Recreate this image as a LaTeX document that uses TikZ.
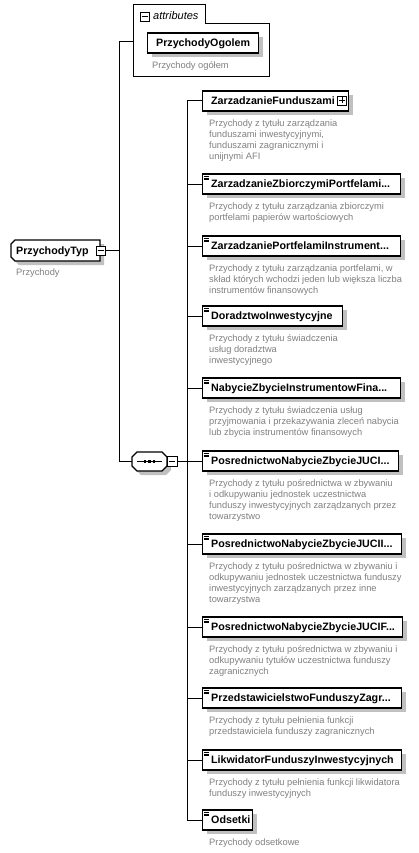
\documentclass[tikz,border=0pt]{standalone}
\usepackage{fontspec}
\setmainfont{Liberation Sans}
\usetikzlibrary{shadows,calc}
\definecolor{descgray}{RGB}{128,128,128}
\definecolor{shadowgray}{RGB}{192,192,192}

\newcommand\xelem[6]{%
  \coordinate (#1b) at (187,#2);
  \node[elbox, minimum width=#3pt] (#1) at (202,#2) {};
  \node[titletext, anchor=base west] (#1t) at (211,#2+3.8) {#4};
  \ifnum#5=1
    \draw[iconline] (203.6,#2-7.8) -- (209,#2-7.8) (203.6,#2-6.1) -- (209,#2-6.1) (203.6,#2-4.4) -- (209,#2-4.4);
  \fi
  \node[desctext] (#1d) at (209,#2+17.3) {\strut #6};
  \draw[conn] (#1b) -- (#1.west);
}

\begin{document}
\begin{tikzpicture}[x=1pt,y=-1pt,
  conn/.style={line width=1pt, black},
  elbox/.style={draw=black, line width=1.2pt, fill=white, inner sep=0pt, minimum height=20pt, anchor=west,
    general shadow={fill=shadowgray, shadow xshift=4pt, shadow yshift=-4pt}},
  titletext/.style={font=\fontsize{10.7}{12}\selectfont\bfseries, inner sep=0pt},
  desctext/.style={font=\fontsize{9.3}{11}\selectfont, text=descgray, align=left, inner sep=0pt, anchor=north west},
  iconline/.style={line width=0.7pt, black},
  pmbox/.style={draw=black, fill=white, line width=0.8pt, minimum size=9pt, inner sep=0pt},
]
\useasboundingbox (0,0) rectangle (418,853);
\fill[white] (0,0) rectangle (418,853);

% ---------- attributes group ----------
\draw[line width=1pt] (133,5) -- (205,5) -- (205,24) -- (269,24) -- (269,77) -- (133,77) -- cycle;
\node[pmbox, minimum size=9pt] (attrpm) at (144.5,16.5) {};
\draw[line width=0.8pt] ($(attrpm.center)+(-3,0)$) -- ($(attrpm.center)+(3,0)$);
\node[font=\fontsize{11}{12}\selectfont\itshape, inner sep=0pt, anchor=base west] (attrlabel) at (153,20) {attributes};
\node[elbox, minimum width=111pt, text height=7.7pt, text depth=0pt, font=\fontsize{10.7}{12}\selectfont\bfseries] (ogolem) at (147,43) {PrzychodyOgolem};
\node[desctext] (ogolemd) at (152,60.3) {\strut Przychody ogółem};
\coordinate (attrw) at (133,42);

% ---------- root ----------
\begin{scope}[shift={(4,4)}]
  \fill[shadowgray] (15,240) -- (100,240) -- (100,261) -- (15,261) -- (11,257) -- (11,244) -- cycle;
\end{scope}
\draw[line width=1.2pt, fill=white] (15,240) -- (100,240) -- (100,261) -- (15,261) -- (11,257) -- (11,244) -- cycle;
\node[titletext, anchor=base west] (root) at (16,254.3) {PrzychodyTyp};
\node[pmbox] (rootpm) at (100.5,250.5) {};
\draw[line width=0.8pt] ($(rootpm.center)+(-3,0)$) -- ($(rootpm.center)+(3,0)$);
\node[desctext] (rootd) at (16,267.3) {\strut Przychody};

% ---------- first vertical bar ----------
\coordinate (v1top) at (119,42);
\coordinate (v1root) at (119,250.5);
\coordinate (v1bot) at (119,461);
\draw[conn] (v1top) -- (v1bot);
\draw[conn] (v1top) -- (attrw);
\draw[conn] (rootpm.east) -- (v1root);

% ---------- sequence ----------
\begin{scope}[shift={(4,4)}]
  \fill[shadowgray] (137,452) -- (162,452) -- (167,457) -- (167,466) -- (162,471) -- (137,471) -- (132,466) -- (132,457) -- cycle;
\end{scope}
\draw[line width=1.2pt, fill=white] (137,452) -- (162,452) -- (167,457) -- (167,466) -- (162,471) -- (137,471) -- (132,466) -- (132,457) -- cycle;
\coordinate (seqw) at (132,461);
\draw[line width=1pt] (137,461.5) -- (162,461.5);
\foreach \dx in {145,149.5,154} { \fill (\dx-1.4,460.1) rectangle (\dx+1.4,462.9); }
\node[pmbox, minimum size=10pt] (seqpm) at (172,461) {};
\draw[line width=0.8pt] ($(seqpm.center)+(-3,0)$) -- ($(seqpm.center)+(3,0)$);
\draw[conn] (v1bot) -- (seqw);
\coordinate (v2mid) at (187,461);
\draw[conn] (seqpm.east) -- (v2mid);

% ---------- children ----------
\xelem{e1}{101}{146}{ZarzadzanieFunduszami}{0}{Przychody z tytułu zarządzania\\funduszami inwestycyjnymi,\\funduszami zagranicznymi i\\unijnymi AFI}
\node[pmbox, minimum size=9pt] (e1pm) at (342,100.5) {};
\draw[line width=0.8pt] ($(e1pm.center)+(-3,0)$) -- ($(e1pm.center)+(3,0)$) ($(e1pm.center)+(0,-3)$) -- ($(e1pm.center)+(0,3)$);
\xelem{e2}{184}{198}{ZarzadzanieZbiorczymiPortfelami...}{1}{Przychody z tytułu zarządzania zbiorczymi\\portfelami papierów wartościowych}
\xelem{e3}{246}{198}{ZarzadzaniePortfelamiInstrument...}{1}{Przychody z tytułu zarządzania portfelami, w\\skład których wchodzi jeden lub większa liczba\\instrumentów finansowych}
\xelem{e4}{316}{140}{DoradztwoInwestycyjne}{1}{Przychody z tytułu świadczenia\\usług doradztwa\\inwestycyjnego}
\xelem{e5}{388}{198}{NabycieZbycieInstrumentowFina...}{1}{Przychody z tytułu świadczenia usług\\przyjmowania i przekazywania zleceń nabycia\\lub zbycia instrumentów finansowych}
\xelem{e6}{461}{196}{PosrednictwoNabycieZbycieJUCI...}{1}{Przychody z tytułu pośrednictwa w zbywaniu\\i odkupywaniu jednostek uczestnictwa\\funduszy inwestycyjnych zarządzanych przez\\towarzystwo}
\xelem{e7}{544}{199}{PosrednictwoNabycieZbycieJUCII...}{1}{Przychody z tytułu pośrednictwa w zbywaniu i\\odkupywaniu jednostek uczestnictwa funduszy\\inwestycyjnych zarządzanych przez inne\\towarzystwa}
\xelem{e8}{627}{200}{PosrednictwoNabycieZbycieJUCIF...}{1}{Przychody z tytułu pośrednictwa w zbywaniu i\\odkupywaniu tytułów uczestnictwa funduszy\\zagranicznych}
\xelem{e9}{698}{199}{PrzedstawicielstwoFunduszyZagr...}{1}{Przychody z tytułu pełnienia funkcji\\przedstawiciela funduszy zagranicznych}
\xelem{e10}{760}{199}{LikwidatorFunduszyInwestycyjnych}{1}{Przychody z tytułu pełnienia funkcji likwidatora\\funduszy inwestycyjnych}
\xelem{e11}{820}{50}{Odsetki}{1}{Przychody odsetkowe}

\draw[conn] (e1b) -- (e11b);
\end{tikzpicture}
\end{document}
